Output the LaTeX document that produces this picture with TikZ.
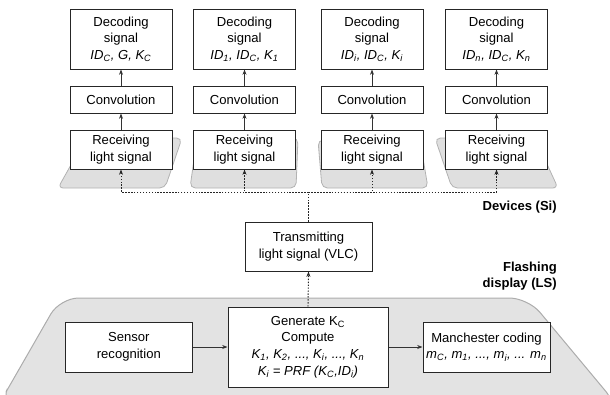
\documentclass[tikz,border=0pt]{standalone}
\usepackage{fontspec}
\setmainfont{Liberation Sans}
\usetikzlibrary{positioning, arrows.meta, backgrounds}

\begin{document}
\begin{tikzpicture}[
    x=0.75pt, y=-0.75pt,
    every node/.style={font=\fontsize{9.8}{12.4}\selectfont},
    dec/.style={rectangle, draw=black!85, fill=white, line width=0.75pt, minimum width=76.5pt, minimum height=45pt, align=center, inner sep=2pt},
    conv/.style={dec, minimum height=20.25pt},
    recv/.style={dec, minimum height=29.25pt},
    proc/.style={dec, minimum width=95.25pt, minimum height=37.5pt},
    lbl/.style={font=\fontsize{9.8}{12.4}\selectfont\bfseries, align=right, anchor=east, inner sep=0pt},
    arr/.style={-{Stealth[length=4pt, width=3pt]}, line width=0.6pt, draw=black!80},
    dotline/.style={line width=0.7pt, draw=black!85, dash pattern=on 1.1pt off 1.1pt},
    dotarr/.style={arr, dotline},
    dev/.style={fill=gray!25, draw=gray!60, line width=0.6pt, rounded corners=4pt},
    stage/.style={fill=gray!22, draw=gray!65, line width=0.75pt, rounded corners=14pt}
]
    \useasboundingbox (0,0) rectangle (610,394);

    % devices
    \node[dec] (dec1) at (121,39) {Decoding\\signal\\\textit{ID\textsubscript{C}, G, K\textsubscript{C}}};
    \node[dec] (dec2) at (244.5,39) {Decoding\\signal\\\textit{ID\textsubscript{1}, ID\textsubscript{C}, K\textsubscript{1}}};
    \node[dec] (dec3) at (372,39) {Decoding\\signal\\\textit{ID\textsubscript{i}, ID\textsubscript{C}, K\textsubscript{i}}};
    \node[dec] (dec4) at (496.5,39) {Decoding\\signal\\\textit{ID\textsubscript{n}, ID\textsubscript{C}, K\textsubscript{n}}};

    \node[conv] (conv1) [below=12pt of dec1] {Convolution};
    \node[conv] (conv2) [below=12pt of dec2] {Convolution};
    \node[conv] (conv3) [below=12pt of dec3] {Convolution};
    \node[conv] (conv4) [below=12pt of dec4] {Convolution};

    \node[recv] (recv1) [below=12pt of conv1] {Receiving\\light signal};
    \node[recv] (recv2) [below=12pt of conv2] {Receiving\\light signal};
    \node[recv] (recv3) [below=12pt of conv3] {Receiving\\light signal};
    \node[recv] (recv4) [below=12pt of conv4] {Receiving\\light signal};

    \node[lbl] (devlbl) at (557,207) {Devices (Si)};

    % display side
    \node[proc, minimum width=120pt, minimum height=60pt] (gen) at (308,347) {
        Generate K\textsubscript{C}\\
        Compute\\
        \textit{K\textsubscript{1}, K\textsubscript{2}, ..., K\textsubscript{i}, ..., K\textsubscript{n}}\\
        \textit{K\textsubscript{i} = PRF (K\textsubscript{C},ID\textsubscript{i})}
    };
    \node[proc] (sensor) [left=26pt of gen] {Sensor\\recognition};
    \node[proc] (manch) [right=25.5pt of gen] {Manchester coding\\\textit{m\textsubscript{C}, m\textsubscript{1}, ..., m\textsubscript{i}, ... m\textsubscript{n}}};
    \node[proc, minimum height=36.75pt] (tx) at (308.5,246.5) {Transmitting\\light signal (VLC)};

    \node[lbl] (lslbl) at (557,276) {Flashing\\display (LS)};

    \coordinate (bus) at (308.5,192);

    \draw[arr] (conv1) -- (dec1);
    \draw[arr] (conv2) -- (dec2);
    \draw[arr] (conv3) -- (dec3);
    \draw[arr] (conv4) -- (dec4);
    \draw[arr] (recv1) -- (conv1);
    \draw[arr] (recv2) -- (conv2);
    \draw[arr] (recv3) -- (conv3);
    \draw[arr] (recv4) -- (conv4);

    \draw[dotarr] (bus) -| (recv1.south);
    \draw[dotarr] (bus) -| (recv2.south);
    \draw[dotarr] (bus) -| (recv3.south);
    \draw[dotarr] (bus) -| (recv4.south);
    \draw[dotline] (tx.north) -- (bus);
    \draw[dotarr] (gen.north) -- (tx.south);

    \draw[arr] (sensor) -- (gen);
    \draw[arr] (gen) -- (manch);

    \begin{scope}[on background layer]
        \clip (0,0) rectangle (610,394);
        \path[stage] (6,392) -- (60,298) -- (528,298) -- (618,406) -- (0,406) [sharp corners] -- cycle;
        \path[dev] (86,138) -- (182,138) -- (165,188) -- (58,188) -- cycle;
        \path[dev] (197,138) -- (298,138) -- (296,188) -- (190,188) -- cycle;
        \path[dev] (318,140) -- (420,140) -- (428,188) -- (322,188) -- cycle;
        \path[dev] (435,138) -- (535,138) -- (558,188) -- (452,188) -- cycle;
    \end{scope}
\end{tikzpicture}
\end{document}
